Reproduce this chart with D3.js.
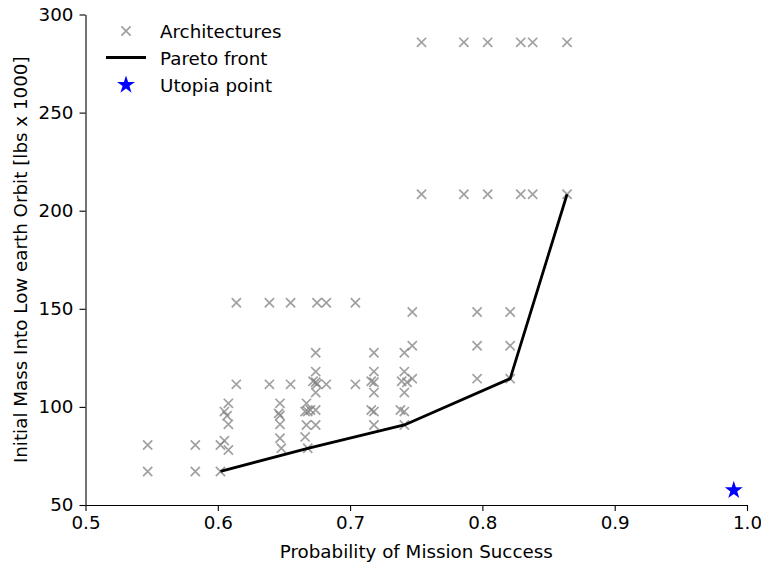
<!DOCTYPE html>
<html>
<head>
<meta charset="utf-8">
<script src="https://cdn.jsdelivr.net/npm/d3@7"></script>
<style>
  body { margin: 0; background: #fff; }
  svg { display: block; font-family: "DejaVu Sans", sans-serif; }
</style>
</head>
<body>
<div id="chart"></div>
<script>
// architectures: probability of success vs initial mass in LEO (lbs x 1000)
var archSuccess = [
  0.754, 0.786, 0.804, 0.829, 0.838, 0.864,
  0.754, 0.786, 0.804, 0.829, 0.838, 0.864,
  0.614, 0.639, 0.655, 0.675, 0.682, 0.704,
  0.747, 0.747, 0.747,
  0.796, 0.796, 0.796,
  0.821, 0.821, 0.821,
  0.614, 0.639, 0.655, 0.682, 0.704,
  0.674, 0.674, 0.672, 0.674, 0.675, 0.674, 0.674, 0.674,
  0.718, 0.718, 0.716, 0.718, 0.718, 0.716, 0.718, 0.718,
  0.741, 0.741, 0.739, 0.743, 0.741, 0.738, 0.741, 0.741,
  0.667, 0.670, 0.666, 0.668, 0.667, 0.666, 0.668,
  0.647, 0.646, 0.647, 0.647, 0.647, 0.648,
  0.608, 0.605, 0.607, 0.608, 0.605, 0.608,
  0.602, 0.602,
  0.583, 0.583,
  0.547, 0.547
];
var archMass = [
  285.8, 285.8, 285.8, 285.8, 285.8, 285.8,
  208.4, 208.4, 208.4, 208.4, 208.4, 208.4,
  153.1, 153.1, 153.1, 153.1, 153.1, 153.1,
  148.4, 131.2, 114.4,
  148.4, 131.2, 114.4,
  148.4, 131.2, 114.4,
  111.5, 111.5, 111.5, 111.5, 111.5,
  127.6, 118.0, 113.1, 112.6, 111.7, 107.3, 98.4, 90.8,
  127.6, 118.0, 113.1, 112.6, 107.3, 98.4, 97.6, 90.8,
  127.6, 118.0, 113.1, 112.6, 107.3, 98.4, 97.6, 90.8,
  101.8, 98.4, 97.6, 97.6, 90.8, 84.7, 78.9,
  101.8, 96.7, 95.6, 91.1, 84.0, 78.9,
  101.8, 97.6, 95.5, 91.1, 82.8, 78.0,
  80.6, 67.1,
  80.6, 67.1,
  80.6, 67.1
];

var paretoSuccess = [0.602, 0.668, 0.741, 0.821, 0.864];
var paretoMass = [67.1, 78.9, 90.8, 114.4, 208.4];

var utopiaSuccess = 0.99;
var utopiaMass = 57.5;

var xTicks = [0.5, 0.6, 0.7, 0.8, 0.9, 1.0];
var yTicks = [50, 100, 150, 200, 250, 300];

var width = 761;
var height = 563;
var plotLeft = 85.5, plotRight = 747, plotTop = 14.5, plotBottom = 505;
var fontSize = 18.3;

var svg = d3.select("#chart").
append("svg").
attr("width", width).
attr("height", height);

var xScale = d3.scaleLinear().
domain([0.5, 1.0]).
range([plotLeft, plotRight]);

var yScale = d3.scaleLinear().
domain([50, 300]).
range([plotBottom, plotTop]);

var xAxis = d3.axisBottom(xScale).
tickValues(xTicks).
tickFormat(d3.format(".1f")).
tickSizeInner(6).
tickSizeOuter(0).
tickPadding(5);

var yAxis = d3.axisLeft(yScale).
tickValues(yTicks).
tickSizeInner(6).
tickSizeOuter(0).
tickPadding(6);

var gx = svg.append("g").
attr("transform", "translate(0," + plotBottom + ")").
call(xAxis);

var gy = svg.append("g").
attr("transform", "translate(" + plotLeft + ",0)").
call(yAxis);

[gx, gy].forEach(function (g) {
  g.selectAll("path, line").attr("stroke", "#000").attr("stroke-width", 1.1);
  g.selectAll("text").
  style("font-size", fontSize + "px").
  style("font-family", "DejaVu Sans").
  attr("fill", "#000");
});

// cross marker path centred at 0,0
function cross(r) {
  return "M" + -r + "," + -r + "L" + r + "," + r + "M" + -r + "," + r + "L" + r + "," + -r;
}

var archData = archSuccess.map(function (s, i) {return { s: s, m: archMass[i] };});

svg.append("g").
selectAll("path").
data(archData).
enter().
append("path").
attr("d", cross(4.6)).
attr("transform", function (d) {return "translate(" + xScale(d.s) + "," + yScale(d.m) + ")";}).
attr("fill", "none").
attr("stroke", "#808080").
attr("stroke-opacity", 0.75).
attr("stroke-width", 1.7);

var paretoData = paretoSuccess.map(function (s, i) {return { s: s, m: paretoMass[i] };});

var line = d3.line().
x(function (d) {return xScale(d.s);}).
y(function (d) {return yScale(d.m);});

svg.append("path").
datum(paretoData).
attr("d", line).
attr("fill", "none").
attr("stroke", "#000").
attr("stroke-width", 2.8).
attr("stroke-linejoin", "round");

var star = d3.symbol().type(d3.symbolStar).size(100);

svg.append("path").
attr("d", star).
attr("transform", "translate(" + xScale(utopiaSuccess) + "," + yScale(utopiaMass) + ")").
attr("fill", "#0000ff");

// legend
var legend = svg.append("g");

legend.append("path").
attr("d", cross(4.6)).
attr("transform", "translate(126,31)").
attr("fill", "none").
attr("stroke", "#808080").
attr("stroke-opacity", 0.75).
attr("stroke-width", 1.7);

legend.append("line").
attr("x1", 106).attr("x2", 146).
attr("y1", 57.5).attr("y2", 57.5).
attr("stroke", "#000").
attr("stroke-width", 2.8);

legend.append("path").
attr("d", star).
attr("transform", "translate(126,85)").
attr("fill", "#0000ff");

var legendLabels = ["Architectures", "Pareto front", "Utopia point"];
legend.selectAll("text").
data(legendLabels).
enter().
append("text").
attr("x", 160).
attr("y", function (d, i) {return 37.5 + i * 27;}).
style("font-size", fontSize + "px").
text(function (d) {return d;});

svg.append("text").
attr("x", (plotLeft + plotRight) / 2).
attr("y", 557.5).
style("text-anchor", "middle").
style("font-size", fontSize + "px").
text("Probability of Mission Success");

svg.append("text").
attr("transform", "translate(27," + (plotTop + plotBottom) / 2 + ") rotate(-90)").
style("text-anchor", "middle").
style("font-size", fontSize + "px").
text("Initial Mass Into Low earth Orbit [lbs x 1000]");
</script>
</body>
</html>
